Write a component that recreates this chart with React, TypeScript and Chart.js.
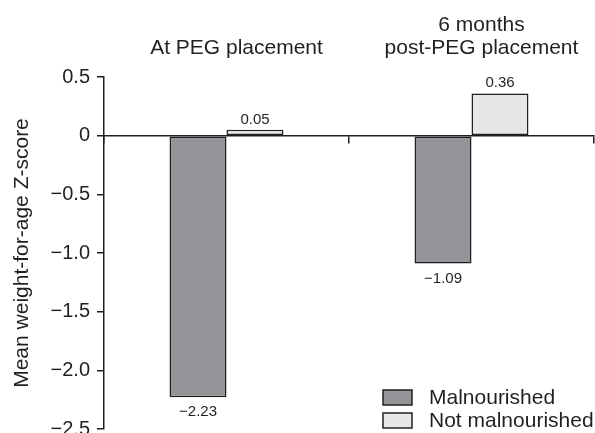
import React, { useEffect, useRef } from 'react';
import { Chart, registerables } from 'chart.js';

Chart.register(...registerables);

const categories = ['At PEG placement', '6 months post-PEG placement'];
const categoryTitles = [['At PEG placement'], ['6 months', 'post-PEG placement']];
const seriesNames = ['Malnourished', 'Not malnourished'];
const malnourished = [-2.23, -1.09];
const notMalnourished = [0.05, 0.36];
const yTickValues = [0.5, 0, -0.5, -1.0, -1.5, -2.0, -2.5];
const yTitle = 'Mean weight-for-age Z-score';

const INK = '#231f20';
const DARK = '#939598';
const LIGHT = '#e6e7e8';
const FAMILY = '"Liberation Sans", Arial, Helvetica, sans-serif';

const fmt = (v: number, d: number) => {
  if (v === 0) return '0';
  const s = Math.abs(v).toFixed(d);
  return v < 0 ? '\u2212' + s : s;
};

const valueLabels = {
  id: 'valueLabels',
  afterDatasetsDraw(chart: any) {
    const ctx = chart.ctx;
    ctx.save();
    ctx.font = `15px ${FAMILY}`;
    ctx.fillStyle = INK;
    ctx.textAlign = 'center';
    ctx.textBaseline = 'alphabetic';
    chart.data.datasets.forEach((ds: any, di: number) => {
      const meta = chart.getDatasetMeta(di);
      meta.data.forEach((bar: any, i: number) => {
        const v = ds.data[i] as number;
        const y = v >= 0 ? bar.y - 6 : bar.y + 19;
        ctx.fillText(fmt(v, 2), bar.x, y);
      });
    });
    ctx.restore();
  },
};

const boxLegend = {
  id: 'boxLegend',
  afterDraw(chart: any) {
    const { ctx, chartArea } = chart;
    const x0 = chartArea.right - 211;
    const tops = [chartArea.bottom - 39, chartArea.bottom - 16];
    ctx.save();
    ctx.font = `21px ${FAMILY}`;
    ctx.textAlign = 'left';
    ctx.textBaseline = 'middle';
    chart.data.datasets.forEach((ds: any, i: number) => {
      const t = tops[i];
      ctx.fillStyle = ds.backgroundColor;
      ctx.fillRect(x0, t, 29, 15);
      ctx.lineWidth = 1.5;
      ctx.strokeStyle = INK;
      ctx.strokeRect(x0, t, 29, 15);
      ctx.fillStyle = INK;
      ctx.fillText(ds.label, x0 + 46, t + 8);
    });
    ctx.restore();
  },
};

export default function App() {
  const ref = useRef<HTMLCanvasElement | null>(null);

  useEffect(() => {
    if (!ref.current) return;
    Chart.defaults.font.family = FAMILY;
    Chart.defaults.color = INK;
    const chart = new Chart(ref.current, {
      type: 'bar',
      data: {
        labels: categories,
        datasets: [
          {
            label: seriesNames[0],
            data: malnourished,
            backgroundColor: DARK,
            borderColor: INK,
            borderWidth: 1.5,
            borderSkipped: false,
            categoryPercentage: 0.465,
            barPercentage: 1,
          },
          {
            label: seriesNames[1],
            data: notMalnourished,
            backgroundColor: LIGHT,
            borderColor: INK,
            borderWidth: 1.5,
            borderSkipped: false,
            categoryPercentage: 0.465,
            barPercentage: 1,
          },
        ],
      },
      options: {
        animation: false,
        responsive: false,
        events: [],
        layout: { padding: { left: 0, top: 0, right: 1, bottom: 4 } },
        plugins: {
          legend: { display: false },
          tooltip: { enabled: false },
          title: { display: false },
        },
        scales: {
          x: {
            type: 'category',
            position: { y: 0 } as any,
            ticks: { display: false },
            grid: {
              offset: true,
              drawOnChartArea: false,
              drawTicks: true,
              tickLength: 7,
              color: INK,
              lineWidth: 1.5,
            },
            border: { display: true, color: INK, width: 1.5 },
          },
          x2: {
            type: 'category',
            position: 'top',
            labels: categoryTitles as any,
            offset: true,
            grid: { display: false, drawTicks: false },
            border: { display: false },
            ticks: {
              font: { size: 21, lineHeight: 1.1 },
              color: INK,
              padding: 17,
              labelOffset: 10,
              maxRotation: 0,
              autoSkip: false,
            },
            afterFit: (scale: any) => {
              scale.height = 77;
            },
          },
          y: {
            type: 'linear',
            position: 'left',
            min: -2.5,
            max: 0.5,
            afterBuildTicks: (scale: any) => {
              scale.ticks = yTickValues.map((v) => ({ value: v }));
            },
            ticks: {
              font: { size: 20 },
              color: INK,
              padding: 7,
              callback: (v: any) => fmt(Number(v), 1),
            },
            grid: {
              drawOnChartArea: false,
              drawTicks: true,
              tickLength: 7,
              color: INK,
              lineWidth: 1.5,
            },
            border: { display: true, color: INK, width: 1.5 },
            title: {
              display: true,
              text: yTitle,
              font: { size: 21 },
              color: INK,
              padding: { top: 10, bottom: 0 },
            },
            afterFit: (scale: any) => {
              scale.width = 104;
              scale.paddingTop = 0;
              scale.paddingBottom = 0;
            },
          },
        },
      },
      plugins: [valueLabels, boxLegend],
    });
    return () => chart.destroy();
  }, []);

  return (
    <div style={{ position: 'absolute', left: 0, top: 0, width: 595, height: 433 }}>
      <canvas ref={ref} width={595} height={433} style={{ display: 'block', width: 595, height: 433 }} />
    </div>
  );
}
